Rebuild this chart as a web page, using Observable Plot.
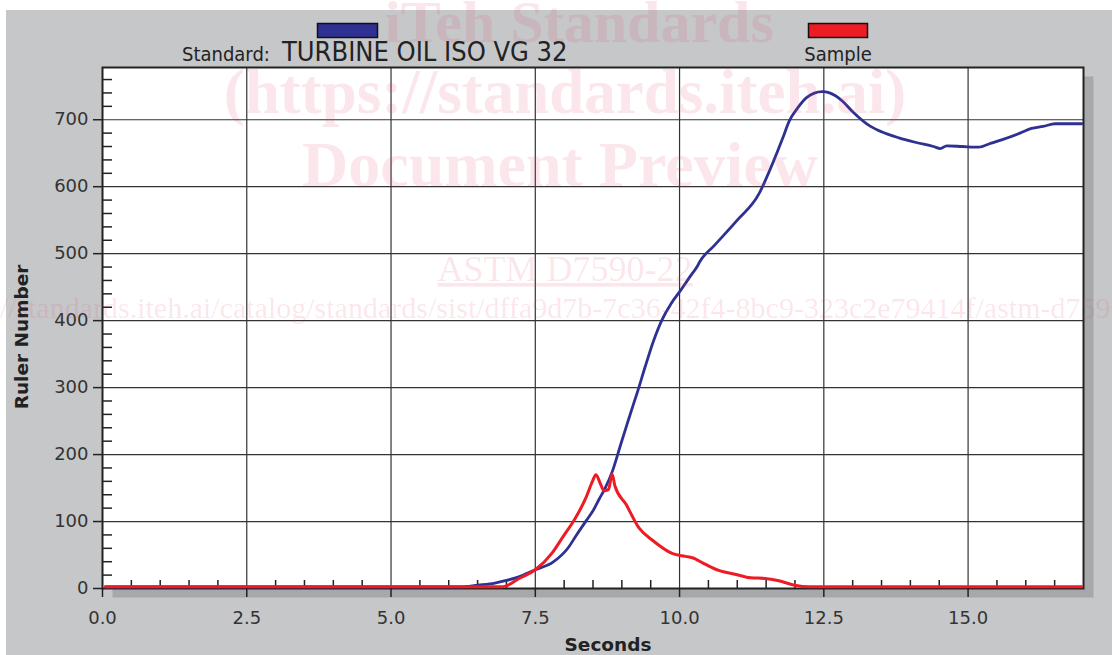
<!DOCTYPE html>
<html>
<head>
<meta charset="utf-8">
<script src="https://cdn.jsdelivr.net/npm/d3@7"></script>
<script src="https://cdn.jsdelivr.net/npm/@observablehq/plot@0.6"></script>
<style>
  html, body { margin: 0; padding: 0; background: #ffffff; }
  #wrap { position: relative; width: 1112px; height: 655px; overflow: hidden; }
  #bg { position: absolute; left: 6px; top: 10px; right: 0; bottom: 0; background: #c6c7c9; }
  #chart { position: absolute; left: 0; top: 0; }
  #overlay { position: absolute; left: 0; top: 0; pointer-events: none; }
</style>
</head>
<body>
<div id="wrap">
  <div id="bg"></div>
  <div id="chart"></div>
  <svg id="overlay" width="1112" height="655"></svg>
</div>
<script>
// ---- Data ----
const seriesNames = ["Standard", "Sample"];
const standardLabel = "TURBINE OIL ISO VG 32";
const seriesColors = ["#2e3192", "#ed1c24"];

const xMajorTicks = [0, 2.5, 5, 7.5, 10, 12.5, 15];
const xMinorTicks = [0.5, 1, 1.5, 2, 3, 3.5, 4, 4.5, 5.5, 6, 6.5, 7, 8, 8.5, 9, 9.5, 10.5, 11, 11.5, 12, 13, 13.5, 14, 14.5, 15.5, 16, 16.5];
const yMajorTicks = [0, 100, 200, 300, 400, 500, 600, 700];
const yMinorTicks = [20, 40, 60, 80, 120, 140, 160, 180, 220, 240, 260, 280, 320, 340, 360, 380, 420, 440, 460, 480, 520, 540, 560, 580, 620, 640, 660, 680, 720, 740, 760];

const standardSeconds = [0.05, 6.2, 6.5, 6.8, 7.0, 7.2, 7.5, 7.8, 8.08, 8.2, 8.38, 8.5, 8.61, 8.7, 8.84, 8.98, 9.1, 9.2, 9.25, 9.4, 9.55, 9.7, 9.85, 10.0, 10.2, 10.3, 10.35, 10.6, 11.0, 11.38, 11.5, 11.79, 11.9, 12.05, 12.2, 12.47, 12.6, 12.82, 13.0, 13.31, 13.5, 13.8, 14.1, 14.4, 14.52, 14.63, 14.9, 15.18, 15.4, 15.58, 15.9, 16.1, 16.3, 16.51, 16.97];
const standardRuler  = [2.5, 2.5, 5, 8, 12, 17, 28, 39, 62, 78, 101, 116, 134, 148, 176, 215, 248, 275, 288, 330, 370, 402, 425, 443, 468, 480, 488, 512, 550, 590, 612, 673, 698, 718, 733, 742, 740, 728, 712, 690, 682, 673, 666, 660, 657, 661, 660, 659, 665, 670, 680, 687, 690, 694, 694];

const sampleSeconds = [0.05, 6.9, 7.0, 7.22, 7.5, 7.8, 7.97, 8.15, 8.2, 8.38, 8.49, 8.55, 8.63, 8.69, 8.77, 8.83, 8.88, 9.07, 9.3, 9.53, 9.88, 10.1, 10.22, 10.45, 10.68, 10.98, 11.23, 11.48, 11.7, 11.99, 12.25, 12.5, 16.97];
const sampleRuler   = [2.5, 2.5, 4, 15, 28, 54, 76, 99, 106, 136, 160, 170, 156, 146, 148, 171, 153, 126, 90, 72, 52, 48, 46, 36, 27, 21, 16, 15, 12, 5, 2.5, 2.5, 2.5];

// ---- Chart ----
const fmt = d3.format(".1f");
const chart = Plot.plot({
  width: 1112,
  height: 655,
  marginLeft: 102,
  marginRight: 29,
  marginTop: 67,
  marginBottom: 67,
  style: { background: "transparent", fontFamily: "'DejaVu Sans', Verdana, sans-serif", fontSize: "18px", color: "#333333", overflow: "visible" },
  x: { domain: [0, 17] },
  y: { domain: [0, 778] },
  marks: [
    Plot.frame({ fill: "#a7a8ab", dx: 10, dy: 9 }),
    Plot.frame({ fill: "#ffffff" }),
    Plot.gridX({ ticks: xMajorTicks.filter(d => d > 0), stroke: "#333333", strokeOpacity: 1, strokeWidth: 1.2 }),
    Plot.gridY({ ticks: yMajorTicks.filter(d => d > 0), stroke: "#333333", strokeOpacity: 1, strokeWidth: 1.2 }),
    Plot.axisX({ ticks: xMinorTicks, tickSize: 8, dy: -8, tickFormat: () => "", label: null, stroke: "#222222", strokeWidth: 1.5 }),
    Plot.axisY({ ticks: yMinorTicks, tickSize: 10, dx: 10, tickFormat: () => "", label: null, stroke: "#222222", strokeWidth: 1.5 }),
    Plot.frame({ stroke: "#222222", strokeWidth: 2 }),
    Plot.line(standardSeconds, { x: standardSeconds, y: standardRuler, stroke: seriesColors[0], strokeWidth: 2.8, curve: "monotone-x" }),
    Plot.line(sampleSeconds, { x: sampleSeconds, y: sampleRuler, stroke: seriesColors[1], strokeWidth: 3, curve: "monotone-x" }),
    Plot.axisX({ ticks: xMajorTicks, tickSize: 9, tickPadding: 14, tickFormat: fmt, label: null, stroke: "#222222", strokeWidth: 1.5, fill: "#333333", fontSize: 18 }),
    Plot.axisY({ ticks: yMajorTicks, tickSize: 9, tickPadding: 5, label: null, stroke: "#222222", strokeWidth: 1.5, fill: "#333333", fontSize: 18 }),
    Plot.text(["Seconds"], { frameAnchor: "bottom", textAnchor: "middle", dx: 15, dy: 62, fontWeight: "bold", fontSize: 18.5, fill: "#222222" }),
    Plot.text(["Ruler Number"], { frameAnchor: "left", textAnchor: "middle", dx: -80, dy: 9, rotate: -90, fontWeight: "bold", fontSize: 18.5, fill: "#222222" })
  ]
});
document.getElementById("chart").appendChild(chart);

// ---- Legend + watermark overlay ----
const svg = d3.select("#overlay");
svg.append("rect").attr("x", 317.5).attr("y", 23.5).attr("width", 60).attr("height", 14)
  .attr("fill", seriesColors[0]).attr("stroke", "#111").attr("stroke-width", 1.5);
svg.append("rect").attr("x", 808.5).attr("y", 23.5).attr("width", 59).attr("height", 14)
  .attr("fill", seriesColors[1]).attr("stroke", "#111").attr("stroke-width", 1.5);
const cond = "'DejaVu Sans Condensed', 'DejaVu Sans', sans-serif";
svg.append("text").attr("x", 182).attr("y", 61).attr("font-family", cond).attr("font-stretch", "condensed")
  .attr("font-size", 20).attr("fill", "#222").text(seriesNames[0] + ":");
svg.append("text").attr("x", 282).attr("y", 61).attr("font-family", cond).attr("font-stretch", "condensed")
  .attr("font-size", 27).attr("fill", "#222").text(standardLabel);
svg.append("text").attr("x", 838).attr("y", 61).attr("text-anchor", "middle").attr("font-family", cond).attr("font-stretch", "condensed")
  .attr("font-size", 20).attr("fill", "#222").text(seriesNames[1]);

// watermark
const wm = svg.append("g").attr("fill", "rgb(225,60,100)").attr("fill-opacity", 0.13).attr("font-family", "'Liberation Serif', serif");
wm.append("text").attr("x", 579).attr("y", 42).attr("text-anchor", "middle").attr("font-weight", "bold").attr("font-size", 60).text("iTeh Standards");
wm.append("text").attr("x", 565).attr("y", 113).attr("text-anchor", "middle").attr("font-weight", "bold").attr("font-size", 63).text("(https://standards.iteh.ai)");
wm.append("text").attr("x", 560).attr("y", 186).attr("text-anchor", "middle").attr("font-weight", "bold").attr("font-size", 64).text("Document Preview");
wm.append("text").attr("x", 565).attr("y", 281).attr("text-anchor", "middle").attr("font-size", 36).attr("text-decoration", "underline").text("ASTM D7590-22");
wm.append("text").attr("x", -67).attr("y", 318).attr("font-size", 30).text("https://standards.iteh.ai/catalog/standards/sist/dffa9d7b-7c36-42f4-8bc9-323c2e79414f/astm-d7590-22");
</script>
</body>
</html>
